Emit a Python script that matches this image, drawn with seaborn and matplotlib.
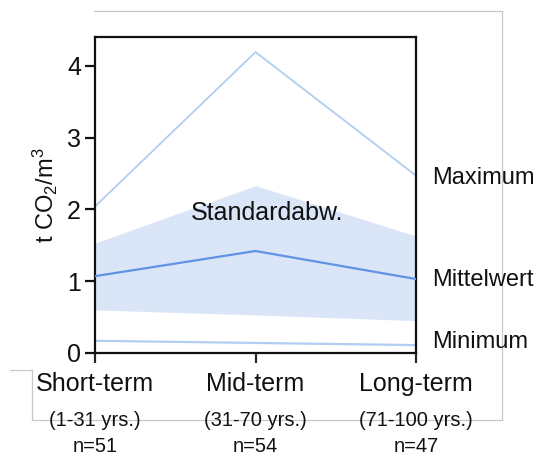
import matplotlib
matplotlib.use("Agg")
import matplotlib.pyplot as plt
import seaborn as sns
import pandas as pd
import numpy as np
from matplotlib.lines import Line2D

categories = ["Short-term", "Mid-term", "Long-term"]
ranges = ["(1-31 yrs.)", "(31-70 yrs.)", "(71-100 yrs.)"]
counts = ["n=51", "n=54", "n=47"]
maximum = [2.04, 4.19, 2.47]
mean = [1.07, 1.42, 1.03]
minimum = [0.17, 0.14, 0.11]
std_upper = [1.53, 2.33, 1.63]
std_lower = [0.60, 0.53, 0.45]

sns.set_theme(style="white")
plt.rcParams['font.family'] = ['Liberation Sans', 'DejaVu Sans']
plt.rcParams['mathtext.fontset'] = 'custom'
plt.rcParams['mathtext.rm'] = 'Liberation Sans'
plt.rcParams['mathtext.it'] = 'Liberation Sans'

df = pd.DataFrame({"cat": categories, "max": maximum, "mean": mean, "min": minimum,
                   "up": std_upper, "lo": std_lower})
df["x"] = np.arange(len(categories))

fig = plt.figure(figsize=(5.38, 4.57), dpi=100)
ax = fig.add_axes([95/538, 1-353/457, (416-95)/538, (353-37)/457])

ax.fill_between(df["x"], df["lo"], df["up"], color="#dae6f7", linewidth=0, zorder=1)
sns.lineplot(data=df, x="x", y="max", ax=ax, color="#b0cdf2", linewidth=1.3, zorder=2)
sns.lineplot(data=df, x="x", y="mean", ax=ax, color="#5f93e3", linewidth=1.6, zorder=3)
sns.lineplot(data=df, x="x", y="min", ax=ax, color="#b0cdf2", linewidth=1.6, zorder=2)

FS = 18
ax.set_xlim(0, 2)
ax.set_ylim(0, 4.4)
ax.set_yticks([0, 1, 2, 3, 4])
ax.set_xticks(df["x"])
ax.set_xticklabels(categories, fontsize=FS, color="#111111")
ax.tick_params(axis="y", labelsize=FS, length=7, width=1.6, direction="out", left=True, pad=3, colors="#111111")
ax.tick_params(axis="x", length=7, width=1.6, direction="out", bottom=True, pad=7)
ax.set_xlabel("")
ax.set_ylabel(r"t CO$_2$/m$^3$", fontsize=17, labelpad=5, color="#111111")
for s in ax.spines.values():
    s.set_color("#111111")
    s.set_linewidth(1.6)

trans = ax.get_xaxis_transform()
for i in range(len(categories)):
    ax.text(df["x"][i], -0.213, ranges[i], transform=trans, ha="center", va="center", fontsize=14.5, color="#111111")
    ax.text(df["x"][i], -0.295, counts[i], transform=trans, ha="center", va="center", fontsize=14.5, color="#111111")

ax.text(1.075, 1.95, "Standardabw.", ha="center", va="center", fontsize=FS, color="#111111")

for label, yv in [("Maximum", 2.43), ("Mittelwert", 1.02), ("Minimum", 0.15)]:
    ax.text(2.1, yv, label, ha="left", va="center", fontsize=17, color="#111111", clip_on=False)

# decorative light-gray frame
g = "#c8c8c8"
W, H = 538, 457
pts = [(94, 10.7), (502, 10.7), (502, 420), (32, 420), (32, 370), (10, 370)]
xs = [p[0]/W for p in pts]
ys = [1 - p[1]/H for p in pts]
fig.add_artist(Line2D(xs, ys, color=g, linewidth=0.9, zorder=0))

fig.savefig("out.png", dpi=100)
